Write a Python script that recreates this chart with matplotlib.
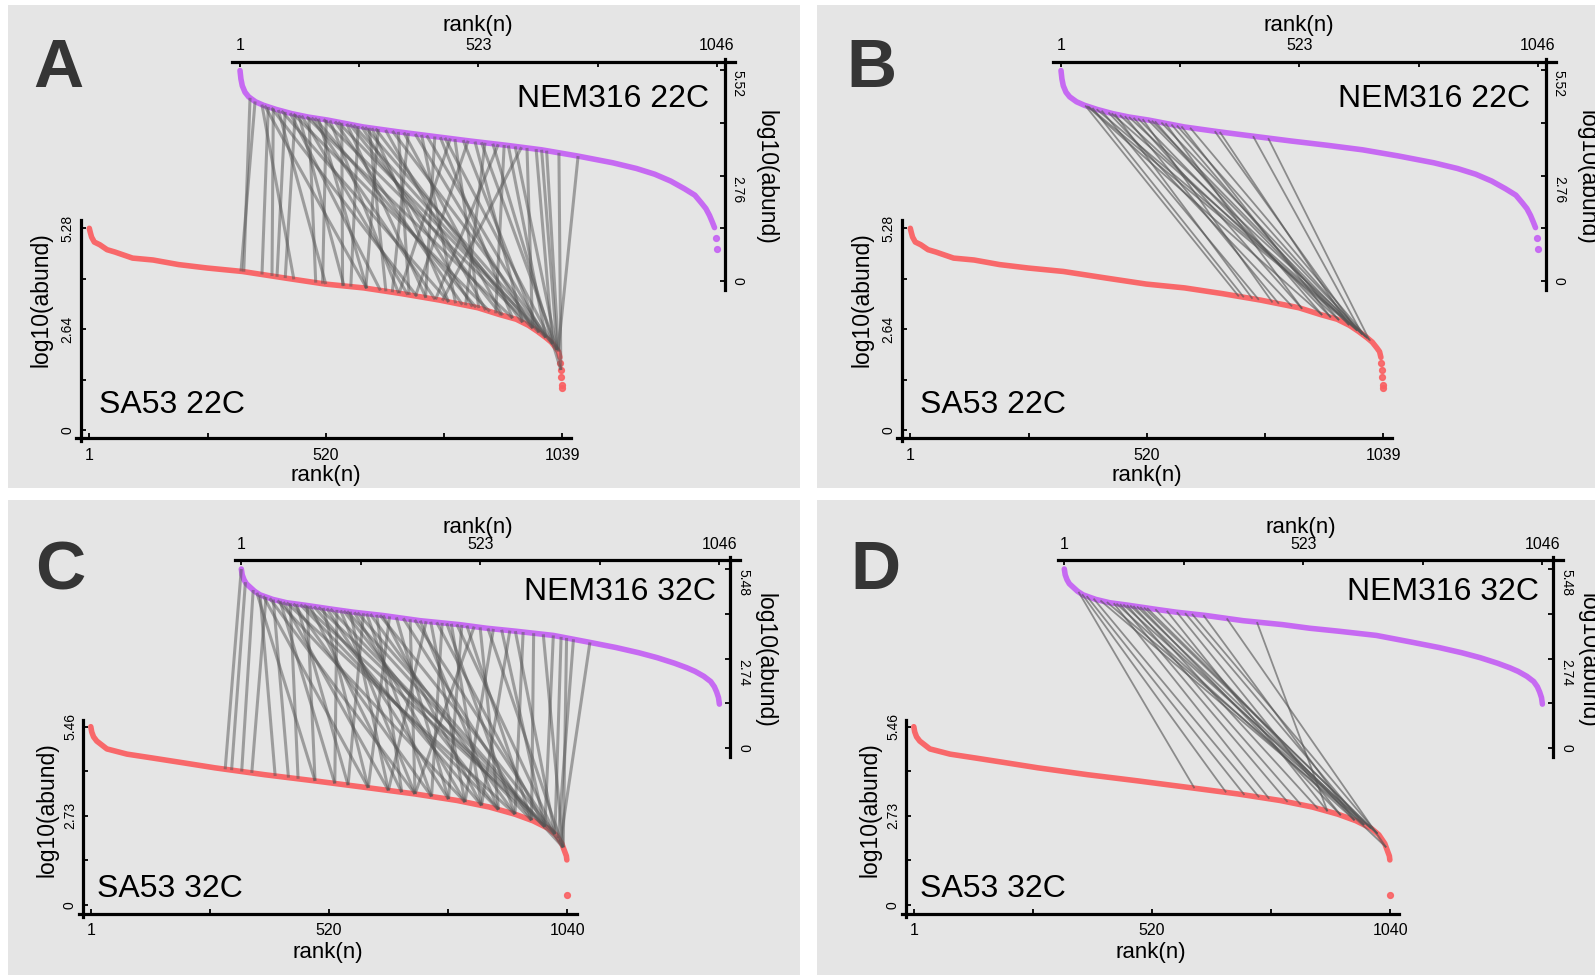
import matplotlib
matplotlib.use('Agg')
import matplotlib.pyplot as plt
from matplotlib.patches import Rectangle, ConnectionPatch
import numpy as np

plt.rcParams['font.family'] = ['Liberation Sans', 'DejaVu Sans']

W, H = 1595, 980

# ---- rank/abundance curves (rank, log10 abundance)
sa53_22_rank = [1, 3, 6, 12, 24, 40, 57, 96, 141, 197, 260, 337, 435, 519, 603, 686, 770, 854,
                902, 938, 965, 985, 1003, 1015, 1025, 1031, 1034]
sa53_22_val = [5.28, 5.18, 5.05, 4.92, 4.85, 4.72, 4.66, 4.50, 4.45, 4.33, 4.24, 4.15, 3.97, 3.82,
               3.72, 3.57, 3.40, 3.20, 3.02, 2.90, 2.74, 2.58, 2.42, 2.30, 2.15, 2.05, 1.90]
sa53_22_tail_rank = [1035, 1036, 1037, 1038, 1039]
sa53_22_tail_val = [1.75, 1.57, 1.40, 1.18, 1.09]

nem_22_rank = [1, 3, 6, 12, 20, 35, 52, 80, 114, 150, 193, 271, 349, 427, 506, 584, 662, 740,
               818, 870, 910, 945, 975, 998, 1012, 1022, 1030, 1036, 1041]
nem_22_val = [5.52, 5.30, 5.12, 4.95, 4.83, 4.70, 4.61, 4.50, 4.39, 4.30, 4.22, 4.04, 3.91, 3.79,
              3.67, 3.56, 3.44, 3.28, 3.10, 2.95, 2.80, 2.62, 2.42, 2.25, 2.05, 1.90, 1.72, 1.55, 1.40]
nem_22_tail_rank = [1044, 1046]
nem_22_tail_val = [1.12, 0.84]

sa53_32_rank = [1, 3, 7, 14, 36, 80, 136, 200, 272, 380, 490, 600, 708, 800, 870, 926, 965, 998,
                1015, 1028, 1034, 1038, 1039]
sa53_32_val = [5.46, 5.30, 5.15, 5.02, 4.78, 4.62, 4.50, 4.36, 4.20, 3.99, 3.80, 3.60, 3.40, 3.20,
               3.00, 2.78, 2.58, 2.35, 2.15, 1.88, 1.65, 1.50, 1.38]
sa53_32_tail_rank = [1040]
sa53_32_tail_val = [0.31]

nem_32_rank = [1, 3, 7, 12, 19, 30, 42, 70, 100, 142, 200, 246, 310, 392, 478, 537, 600, 683, 758,
               820, 870, 910, 948, 975, 993, 1012, 1027, 1035, 1040, 1044, 1046]
nem_32_val = [5.48, 5.30, 5.15, 5.03, 4.94, 4.80, 4.69, 4.55, 4.45, 4.37, 4.25, 4.16, 4.06, 3.90,
              3.78, 3.67, 3.58, 3.45, 3.25, 3.08, 2.92, 2.77, 2.60, 2.46, 2.35, 2.20, 2.04, 1.88,
              1.72, 1.55, 1.35]
nem_32_tail_rank = []
nem_32_tail_val = []

# ---- shared proteins: (NEM316 rank, SA53 rank)
links_a = [(23, 340), (34, 334), (49, 450), (55, 610), (63, 380), (70, 720), (74, 402), (85, 520),
           (92, 790), (100, 413), (111, 640), (118, 880), (122, 431), (130, 560), (136, 700),
           (147, 930), (152, 498), (158, 760), (165, 850), (173, 610), (184, 975), (190, 513),
           (198, 680), (209, 820), (216, 1003), (224, 557), (235, 740), (242, 905), (250, 988),
           (260, 575), (268, 842), (275, 1018), (284, 652), (290, 790), (298, 952), (304, 608),
           (320, 871), (335, 1028), (348, 703), (360, 908), (370, 666), (385, 974), (399, 805),
           (410, 1003), (428, 739), (440, 930), (450, 1018), (462, 681), (472, 856), (490, 988),
           (501, 717), (516, 952), (530, 1028), (538, 827), (555, 1036), (567, 761), (580, 893),
           (589, 1003), (604, 1028), (618, 776), (630, 974), (650, 1018), (662, 1028),
           (673, 1031), (700, 1036), (742, 1030)]
links_b = [(54, 722), (58, 905), (61, 982), (70, 733), (79, 1004), (90, 766), (105, 839),
           (112, 993), (119, 752), (130, 942), (141, 810), (150, 1011), (160, 861), (170, 924),
           (180, 796), (192, 964), (200, 982), (207, 905), (221, 1000), (230, 861), (243, 942),
           (255, 993), (265, 924), (284, 1004), (338, 982), (349, 964), (422, 993), (455, 1008)]
links_c = [(1, 294), (10, 308), (27, 330), (35, 490), (42, 403), (49, 606), (55, 352), (63, 708),
           (71, 432), (80, 817), (86, 533), (93, 650), (100, 926), (108, 453), (115, 744),
           (122, 562), (130, 890), (138, 991), (145, 490), (151, 679), (160, 853), (170, 1013),
           (180, 606), (188, 781), (196, 962), (210, 533), (218, 708), (225, 890), (232, 1031),
           (239, 650), (248, 817), (255, 991), (268, 562), (275, 744), (283, 926), (297, 679),
           (304, 1013), (311, 853), (325, 606), (340, 781), (355, 962), (370, 708), (380, 1031),
           (392, 890), (405, 650), (415, 817), (428, 991), (440, 744), (450, 926), (460, 853),
           (472, 1013), (483, 781), (494, 962), (510, 708), (523, 890), (540, 1031), (552, 817),
           (570, 991), (588, 853), (600, 1013), (617, 926), (640, 962), (661, 1031), (683, 991),
           (700, 1013), (712, 1031), (727, 1020), (763, 1025)]
links_d = [(32, 613), (40, 682), (50, 722), (65, 754), (80, 983), (94, 1012), (109, 776),
           (115, 962), (123, 816), (130, 998), (138, 845), (145, 1031), (152, 882), (160, 983),
           (167, 932), (175, 1012), (182, 998), (200, 962), (225, 903), (247, 932), (265, 983),
           (280, 1012), (305, 962), (356, 1031), (422, 903)]

RED = '#fa6163'
PURPLE = '#c563f3'
BG = '#e5e5e5'

# layout in pixels for the two rows of panels
ROWS = {
    1: dict(bot_box=(80.5, 220, 571, 438.5), bot_x=(89.3, 562.2), bot_y=(430, 228.3),
            top_box=(232, 61.7, 724.5, 290), top_x=(240, 716.8), top_y=(281, 70.5),
            top_title=25, rt_title=(766, 177), lf_title=(41, 300), bt_title=(326, 475),
            letter=(33, 87), nem_txt=(709, 107), sa_txt=(99, 413)),
    2: dict(bot_box=(83.2, 720, 576.5, 914.3), bot_x=(90.8, 567.3), bot_y=(905, 726.7),
            top_box=(234.7, 560, 730, 757), top_x=(241.3, 719.4), top_y=(748.3, 569),
            top_title=528, rt_title=(765, 660), lf_title=(47, 810), bt_title=(328, 952),
            letter=(35, 589), nem_txt=(716, 600), sa_txt=(97, 897)),
}

fig = plt.figure(figsize=(W / 100, H / 100), dpi=100)


def T(x, y, s, **kw):
    return fig.text(x / W, 1 - y / H, s, **kw)


def setup_axes(box, xa, xb, ya, yb):
    l, t, r, b = box
    ax = fig.add_axes([l / W, 1 - b / H, (r - l) / W, (b - t) / H])
    sx = (xb[0] - xa[0]) / (xb[1] - xa[1])
    sy = (yb[0] - ya[0]) / (yb[1] - ya[1])
    ax.set_xlim(xa[0] + (l - xa[1]) * sx, xa[0] + (r - xa[1]) * sx)
    ax.set_ylim(ya[0] + (b - ya[1]) * sy, ya[0] + (t - ya[1]) * sy)
    ax.patch.set_visible(False)
    for s in ax.spines.values():
        s.set_visible(False)
    return ax, sx, sy


def ticks(ax, n, vmax, side):
    ax.set_xticks(np.linspace(1, n, 5))
    ax.set_xticklabels(['1', '', str(int((1 + n) / 2)), '', str(n)])
    ax.set_yticks(np.linspace(0, vmax, 5))
    ax.set_yticklabels(['0', '', f'{vmax / 2:.2f}', '', f'{vmax:.2f}'])
    ax.tick_params(direction='in', length=3.6, width=1.3, labelsize=11.5, color='black')
    ax.tick_params(axis='y', labelsize=10)
    if side == 'top':
        ax.xaxis.tick_top()
        ax.yaxis.tick_right()
        ax.tick_params(axis='x', pad=6)
        ax.tick_params(axis='y', pad=4.5, labelrotation=-90)
        for lab in ax.get_yticklabels():
            lab.set_va('center' if lab.get_text() == '0' else 'top')
    else:
        ax.tick_params(axis='x', pad=6.5)
        ax.tick_params(axis='y', pad=4.5, labelrotation=90)
        for lab in ax.get_yticklabels():
            lab.set_va('center')


def curve(ax, rank, val, trank, tval, color):
    ax.plot(rank, val, color=color, lw=4.0, solid_capstyle='round',
            solid_joinstyle='round', alpha=0.95, zorder=3)
    ax.plot(trank, tval, 'o', color=color, ms=4.2, alpha=0.9, zorder=3)


def panel(letter, dx, bg, row, top_c, bot_c, links, cond, link_lw, link_alpha):
    g = ROWS[row]
    fig.add_artist(Rectangle((bg[0] / W, 1 - bg[3] / H), (bg[2] - bg[0]) / W,
                             (bg[3] - bg[1]) / H, transform=fig.transFigure,
                             facecolor=BG, edgecolor='none', zorder=-5))
    # SA53 (bottom-left axes)
    l, t, r, b = g['bot_box']
    nb = bot_c[0][-1] if not bot_c[2] else bot_c[2][-1]
    bmax = bot_c[1][0]
    axb, sxb, syb = setup_axes((l + dx, t, r + dx, b), (1, g['bot_x'][0] + dx),
                               (nb, g['bot_x'][1] + dx), (0, g['bot_y'][0]),
                               (bmax, g['bot_y'][1]))
    x0, x1 = axb.get_xlim()
    y0, y1 = axb.get_ylim()
    axb.spines['bottom'].set_visible(True)
    axb.spines['left'].set_visible(True)
    axb.spines['bottom'].set_bounds(x0 - 4.5 * sxb, x1)
    axb.spines['left'].set_bounds(y0 + 2.5 * syb, y1)
    for s in ('bottom', 'left'):
        axb.spines[s].set_linewidth(2.3)
    ticks(axb, nb, bmax, 'bottom')
    curve(axb, *bot_c, RED)

    # NEM316 (top-right axes)
    l, t, r, b = g['top_box']
    nt = top_c[0][-1] if not top_c[2] else top_c[2][-1]
    tmax = top_c[1][0]
    axt, sxt, syt = setup_axes((l + dx, t, r + dx, b), (1, g['top_x'][0] + dx),
                               (nt, g['top_x'][1] + dx), (0, g['top_y'][0]),
                               (tmax, g['top_y'][1]))
    x0, x1 = axt.get_xlim()
    y0, y1 = axt.get_ylim()
    axt.spines['top'].set_visible(True)
    axt.spines['right'].set_visible(True)
    axt.spines['top'].set_bounds(x0, x1 + 10 * sxt)
    axt.spines['right'].set_bounds(y0, y1 - 3 * syt)
    for s in ('top', 'right'):
        axt.spines[s].set_linewidth(2.3)
    ticks(axt, nt, tmax, 'top')
    curve(axt, *top_c, PURPLE)

    # connecting lines between the two rank lists
    trk = list(top_c[0]) + list(top_c[2])
    tvl = list(top_c[1]) + list(top_c[3])
    brk = list(bot_c[0]) + list(bot_c[2])
    bvl = list(bot_c[1]) + list(bot_c[3])
    for tr, br in links:
        con = ConnectionPatch(xyA=(tr, np.interp(tr, trk, tvl)), coordsA=axt.transData,
                              xyB=(br, np.interp(br, brk, bvl)), coordsB=axb.transData,
                              color='#555555', lw=link_lw, alpha=link_alpha, zorder=4)
        con.set_capstyle('butt')
        fig.add_artist(con)

    # texts
    T(478 + dx, g['top_title'], 'rank(n)', fontsize=16, ha='center', va='center')
    T(g['bt_title'][0] + dx, g['bt_title'][1], 'rank(n)', fontsize=16, ha='center', va='center')
    T(g['rt_title'][0] + dx, g['rt_title'][1], 'log10(abund)', fontsize=16.5, rotation=-90,
      ha='center', va='center')
    T(g['lf_title'][0] + dx, g['lf_title'][1], 'log10(abund)', fontsize=16.5, rotation=90,
      ha='center', va='center')
    T(g['letter'][0] + dx - 8 * (dx > 0), g['letter'][1], letter, fontsize=50,
      fontweight='bold', color='#353535', ha='left', va='baseline')
    T(g['nem_txt'][0] + dx, g['nem_txt'][1], 'NEM316 ' + cond, fontsize=23, ha='right',
      va='baseline')
    T(g['sa_txt'][0] + dx, g['sa_txt'][1], 'SA53 ' + cond, fontsize=23, ha='left',
      va='baseline')


nem22 = (nem_22_rank, nem_22_val, nem_22_tail_rank, nem_22_tail_val)
sa22 = (sa53_22_rank, sa53_22_val, sa53_22_tail_rank, sa53_22_tail_val)
nem32 = (nem_32_rank, nem_32_val, nem_32_tail_rank, nem_32_tail_val)
sa32 = (sa53_32_rank, sa53_32_val, sa53_32_tail_rank, sa53_32_tail_val)

panel('A', 0, (8, 5, 800, 488), 1, nem22, sa22, links_a, '22C', 2.2, 0.5)
panel('B', 821, (817, 5, 1595, 488), 1, nem22, sa22, links_b, '22C', 1.3, 0.62)
panel('C', 0, (8, 500, 800, 975), 2, nem32, sa32, links_c, '32C', 2.2, 0.5)
panel('D', 823, (817, 500, 1595, 975), 2, nem32, sa32, links_d, '32C', 1.3, 0.62)

fig.savefig('out.png', dpi=100)
